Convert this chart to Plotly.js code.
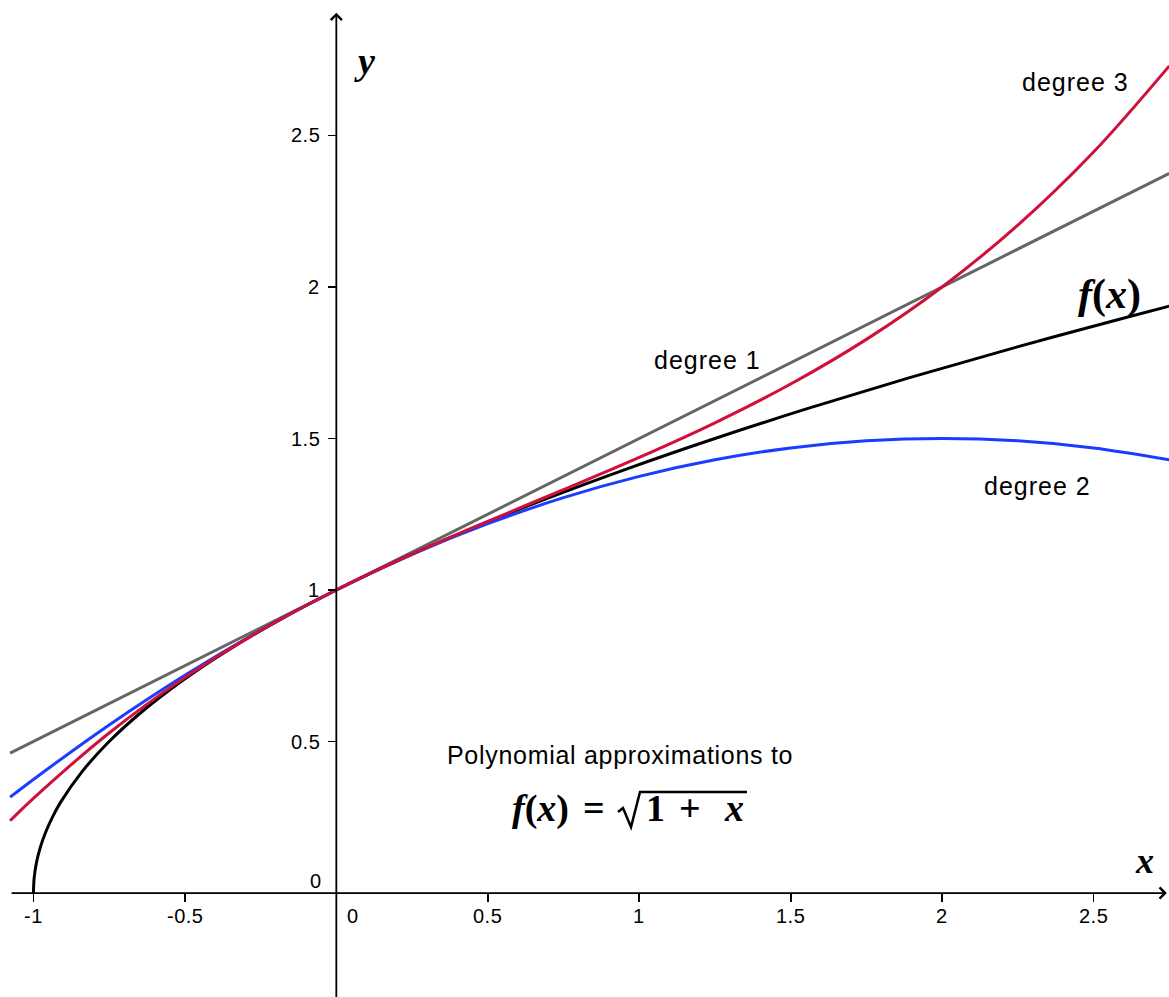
<!DOCTYPE html>
<html><head><meta charset="utf-8">
<script src="https://cdn.plot.ly/plotly-3.0.1.min.js"></script>
<style>html,body{margin:0;padding:0;background:#fff;overflow:hidden;} #chart{width:1169px;height:997px;}</style>
</head><body><div id="chart"></div>
<script>
// axis ranges and ticks
const xRange = [-1.1103, 2.749];
const yRange = [-0.343, 2.947];
const xTickVals = [-1, -0.5, 0.5, 1, 1.5, 2, 2.5];
const xTickText = ['-1', '-0.5', '0.5', '1', '1.5', '2', '2.5'];
const yTickVals = [0.5, 1, 1.5, 2, 2.5];
const yTickText = ['0.5', '1', '1.5', '2', '2.5'];

// degree 1 approximation (straight line)
const degree1X = [-1.077, 2.75];
const degree1Y = [0.4615, 2.375];

// degree 2 and degree 3 approximations, sampled
const polyX = [-1.077, -1, -0.75, -0.5, -0.25, 0, 0.25, 0.5, 0.75, 1, 1.25, 1.5, 1.75, 2, 2.25, 2.5, 2.75];
const degree2Y = [0.3165, 0.375, 0.5547, 0.7188, 0.8672, 1, 1.1172, 1.2188, 1.3047, 1.375, 1.4297, 1.4688, 1.4922, 1.5, 1.4922, 1.4688, 1.4297];
const degree3Y = [0.2384, 0.3125, 0.5283, 0.7109, 0.8662, 1, 1.1182, 1.2266, 1.3311, 1.4375, 1.5518, 1.6797, 1.8271, 2.0, 2.2041, 2.4453, 2.7295];

// f(x) = sqrt(1+x), sampled
const fX = [-1, -0.9975, -0.99, -0.9775, -0.96, -0.9375, -0.91, -0.84, -0.75, -0.64, -0.51, -0.36, -0.19, 0, 0.21, 0.44, 0.69, 0.96, 1.25, 1.56, 1.89, 2.24, 2.61, 2.75];
const fY = [0, 0.05, 0.1, 0.15, 0.2, 0.25, 0.3, 0.4, 0.5, 0.6, 0.7, 0.8, 0.9, 1, 1.1, 1.2, 1.3, 1.4, 1.5, 1.6, 1.7, 1.8, 1.9, 1.9365];

const W = 1169, H = 997;
const colGray = '#666666', colBlue = '#1a3cff', colRed = '#d0103a', colBlack = '#000000';
const sans = 'Liberation Sans, Arial, sans-serif';
const serif = 'Liberation Serif, Times New Roman, serif';

const traces = [
  {x: degree1X, y: degree1Y, mode: 'lines', line: {color: colGray, width: 3}, hoverinfo: 'skip'},
  {x: fX, y: fY, mode: 'lines', line: {color: colBlack, width: 3, shape: 'spline'}, hoverinfo: 'skip'},
  {x: polyX, y: degree2Y, mode: 'lines', line: {color: colBlue, width: 3, shape: 'spline'}, hoverinfo: 'skip'},
  {x: polyX, y: degree3Y, mode: 'lines', line: {color: colRed, width: 3, shape: 'spline'}, hoverinfo: 'skip'}
];

const xPos = (0 - yRange[0]) / (yRange[1] - yRange[0]);
const yPos = (0 - xRange[0]) / (xRange[1] - xRange[0]);

function px(xp) { return xp / W; }
function py(yp) { return 1 - yp / H; }
function spaced(t, ls) { return '<span style="letter-spacing:' + ls + 'px">' + t + '</span>'; }

function label(text, xp, yp, font) {
  return {text: text, xref: 'paper', yref: 'paper', x: px(xp), y: py(yp),
          xanchor: 'center', yanchor: 'middle', showarrow: false, font: font};
}

const tickFont = {family: sans, size: 20, color: '#000'};
const labelFont = {family: sans, size: 25, color: '#000'};
const mathFont = {family: serif, size: 38, color: '#000'};
const annotations = [
  // axis lines with arrowheads
  {text: '', xref: 'x', yref: 'y', axref: 'x', ayref: 'y', x: 2.742, y: 0, ax: -1.077, ay: 0,
   showarrow: true, arrowhead: 4, arrowsize: 1.2, arrowwidth: 1.8, arrowcolor: '#000', standoff: 0, startstandoff: 0},
  {text: '', xref: 'x', yref: 'y', axref: 'x', ayref: 'y', x: 0, y: 2.905, ax: 0, ay: yRange[0] - 0.05,
   showarrow: true, arrowhead: 4, arrowsize: 1.2, arrowwidth: 1.8, arrowcolor: '#000', standoff: 0, startstandoff: 0},
  // zero labels
  label(spaced('0', 0.5), 316, 881, tickFont),
  label(spaced('0', 0.5), 353, 916, tickFont),
  // axis names
  label('<b><i>y</i></b>', 364, 61, {family: serif, size: 38, color: '#000'}),
  label('<b><i>x</i></b>', 1144, 861, {family: serif, size: 36, color: '#000'}),
  // curve labels
  label('<b><i>f</i>(<i>x</i>)</b>', 1109, 295, {family: serif, size: 42, color: '#000'}),
  label(spaced('degree 3', 1), 1075, 82, labelFont),
  label(spaced('degree 1', 1), 707, 360, labelFont),
  label(spaced('degree 2', 1), 1037, 486, labelFont),
  label(spaced('Polynomial approximations to', 0.7), 620, 755, labelFont),
  // formula f(x) = sqrt(1 + x)
  label('<b><i>f</i>(<i>x</i>)</b>', 540, 808, mathFont),
  label('<b>=</b>', 594, 808, mathFont),
  label('<b>1</b>', 655, 808, mathFont),
  label('<b>+</b>', 690, 808, mathFont),
  label('<b><i>x</i></b>', 734, 808, mathFont)
];

// tick labels placed next to the axes (crossing at the origin)
xTickVals.forEach(function (v, i) {
  annotations.push({text: spaced(xTickText[i], 0.5), xref: 'x', yref: 'y', x: v, y: 0, yshift: -23,
    xanchor: 'center', yanchor: 'middle', showarrow: false, font: tickFont});
});
yTickVals.forEach(function (v, i) {
  annotations.push({text: spaced(yTickText[i], 0.5), xref: 'x', yref: 'y', x: 0, y: v, xshift: -14,
    xanchor: 'right', yanchor: 'middle', showarrow: false, font: tickFont});
});

// radical sign drawn as a path (pixel positions converted to paper units)
function pt(xp, yp) { return px(xp).toFixed(5) + ',' + py(yp).toFixed(5); }
const radicalPath = 'M' + pt(618, 812) + 'L' + pt(623, 808) + 'L' + pt(631, 827) + 'L' + pt(640, 792) + 'L' + pt(747, 792);

const shapes = [
  {type: 'path', xref: 'paper', yref: 'paper', path: radicalPath, line: {color: '#000', width: 2.5}}
];

const layout = {
  width: W, height: H,
  margin: {l: 0, r: 0, t: 0, b: 0, pad: 0},
  paper_bgcolor: '#fff', plot_bgcolor: '#fff',
  showlegend: false,
  xaxis: {range: xRange, anchor: 'free', position: xPos, showgrid: false, zeroline: false, showline: false,
          tickmode: 'array', tickvals: xTickVals, ticks: 'outside', ticklen: 8, showticklabels: false,
          tickwidth: 1.8, tickcolor: '#000', fixedrange: true},
  yaxis: {range: yRange, anchor: 'free', position: yPos, showgrid: false, zeroline: false, showline: false,
          tickmode: 'array', tickvals: yTickVals, ticks: 'outside', ticklen: 8, showticklabels: false,
          tickwidth: 1.8, tickcolor: '#000', fixedrange: true},
  annotations: annotations,
  shapes: shapes
};

Plotly.newPlot('chart', traces, layout, {displayModeBar: false, staticPlot: true});
</script>
</body></html>
